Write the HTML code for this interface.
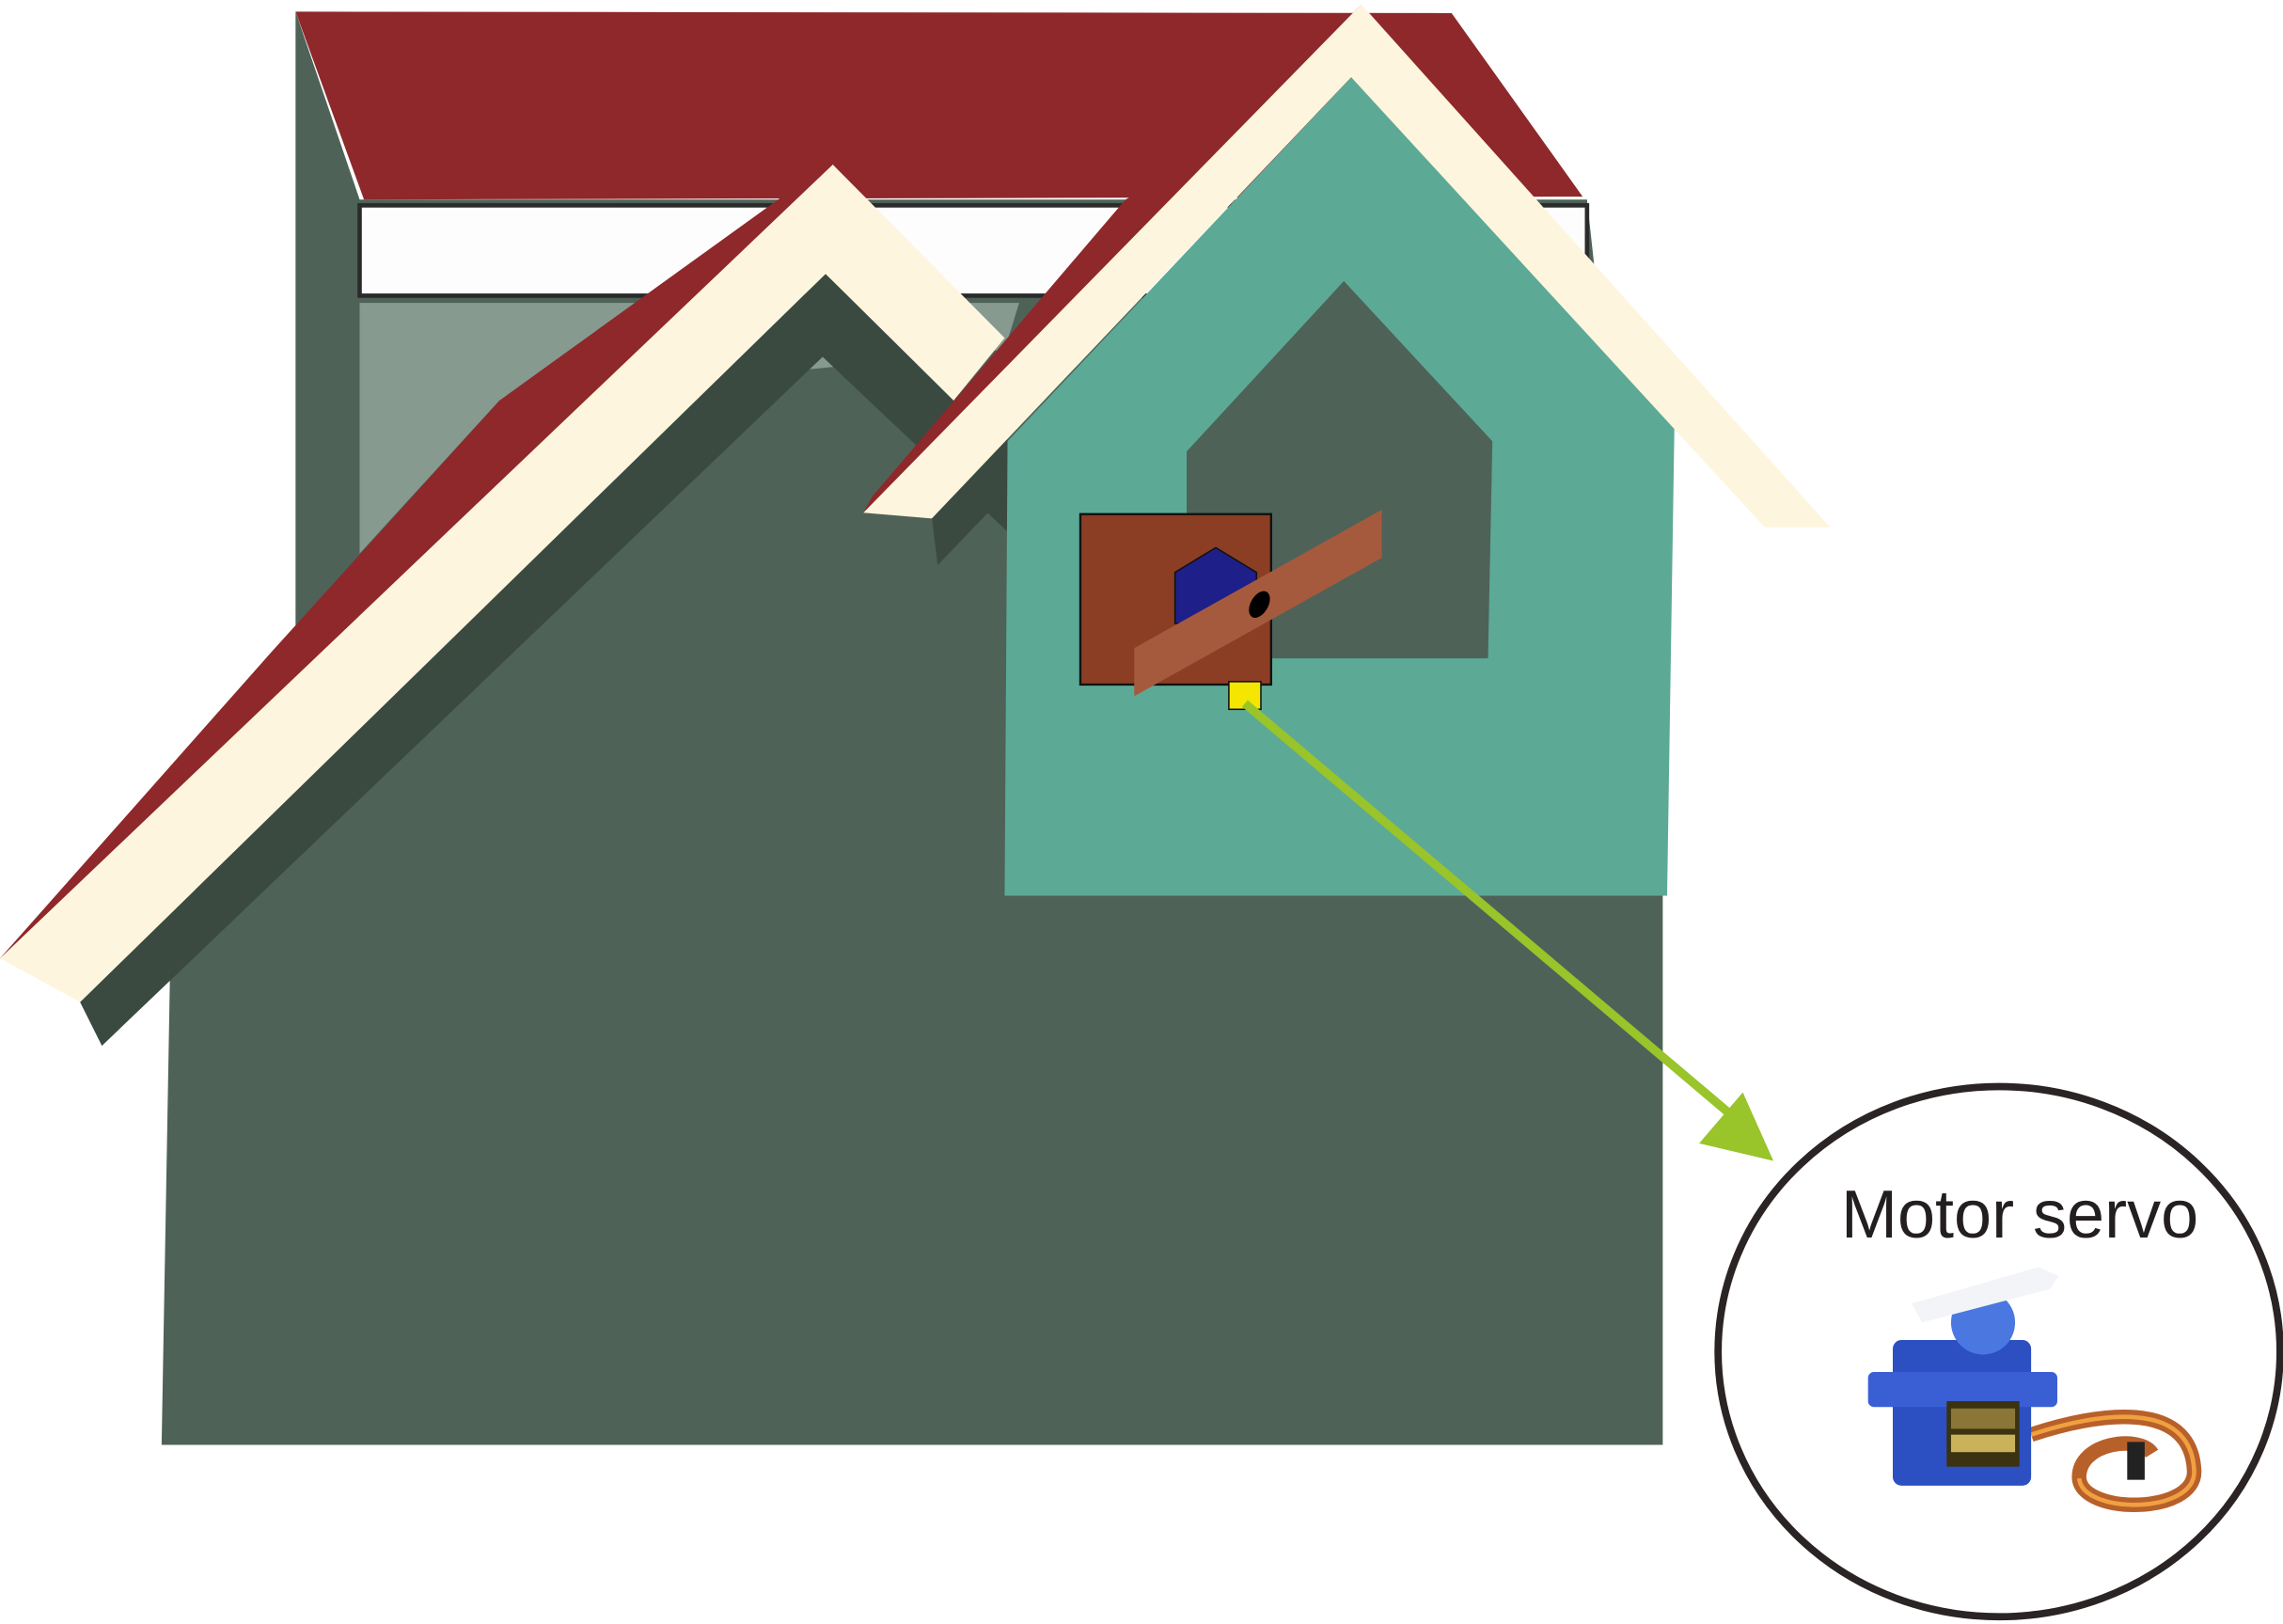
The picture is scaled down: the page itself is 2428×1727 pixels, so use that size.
<!DOCTYPE html>
<html><head><meta charset="utf-8"><style>html,body{margin:0;padding:0;background:#fff;}svg{display:block;}
#lbl{position:absolute;left:1958px;top:1252px;font-family:"Liberation Sans",sans-serif;font-size:72px;line-height:80px;color:#231f20;white-space:nowrap;}</style></head>
<body style="position:relative;width:2428px;height:1727px;overflow:hidden;">
<svg width="2428" height="1727" viewBox="0 0 1568 1115" preserveAspectRatio="none">
<rect width="1568" height="1115" fill="#fff"/>
<polygon fill="#4e6258" points="203,8 247,137 1090,137 1142,615 1142,992 111,992 117,655 203,430"/>
<polygon fill="#8e282b" points="203,8 997,9 1087,135 250,137"/>
<rect x="247" y="141" width="843" height="62" fill="#fdfdfd" stroke="#2b2b2b" stroke-width="3"/>
<polygon fill="#869a8f" points="247,208 700,208 690,240 343,275 247,380"/>
<polygon fill="#8e282b" points="0,658 187,447 343,275 540,133 572,113 30,650"/>
<polygon fill="#cdc9bb" points="55,688 70,718 117,655 130,618"/>
<polygon fill="#3a4a40" points="55,688 70,718 565,245 692,365 692,300 567,188"/>
<polygon fill="#fef5de" points="0,658 572,113 690,232 655,275 567,188 55,688"/>
<polygon fill="#8e282b" points="593,352 599,341 773,137 840,100 935,3 640,356"/>
<polygon fill="#3a4a40" points="640,355 644,388 692,338 692,300"/>
<polygon fill="#5ca996" points="692,303 928,53 1150,293 1145,615 690,615"/>
<polygon fill="#fef5de" points="593,352 935,3 1257,362 1212,362 928,53 640,356"/>
<polygon fill="#4e6258" points="815,310 923,193 1025,303 1022,452 815,452"/>
<rect x="742" y="353" width="131" height="117" fill="#8b3e24" stroke="#111" stroke-width="1.5"/>
<polygon fill="#1f1f8a" stroke="#111" stroke-width="1" points="807,393 835,376 863,393 863,428 807,428"/>
<polygon fill="#a65a3d" points="779,445 949,350 949,383 779,478"/>
<ellipse cx="865" cy="415" rx="6" ry="10" transform="rotate(30 865 415)" fill="#000"/>
<rect x="844" y="468" width="22" height="19" fill="#f4e600" stroke="#111" stroke-width="1"/>
<line x1="855" y1="483" x2="1192" y2="768" stroke="#99c42a" stroke-width="6"/>
<polygon fill="#99c42a" points="1167,785 1197,750 1218,797"/>
<ellipse cx="1373" cy="928" rx="193" ry="182" fill="#fff" stroke="#2b2424" stroke-width="5"/>
<g>
<path d="M1395,985 C1440,970 1505,960 1507,1010 C1508,1040 1430,1040 1428,1015 C1427,990 1470,985 1478,998" fill="none" stroke="#b8602a" stroke-width="10"/>
<path d="M1395,985 C1440,970 1505,960 1507,1010 C1508,1040 1430,1040 1428,1015" fill="none" stroke="#f0a040" stroke-width="3"/>
<rect x="1461" y="990" width="12" height="26" fill="#222"/>
<rect x="1300" y="920" width="95" height="100" rx="6" fill="#2c4fc2"/>
<rect x="1283" y="942" width="130" height="24" rx="4" fill="#3a5fd4"/>
<rect x="1337" y="962" width="50" height="45" fill="#3a3210"/>
<rect x="1340" y="985" width="44" height="12" fill="#c9b25a"/>
<rect x="1340" y="967" width="44" height="14" fill="#8a7636"/>
<circle cx="1362" cy="908" r="22" fill="#4a78e0"/>
<polygon points="1313,895 1400,870 1414,876 1408,885 1320,908" fill="#f2f4f8"/>
</g>
</svg>
<div id="lbl">Motor servo</div>
</body></html>
